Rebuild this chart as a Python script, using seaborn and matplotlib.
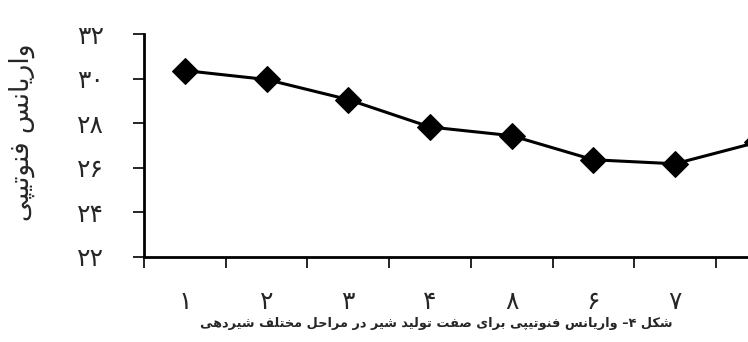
import matplotlib
matplotlib.use("Agg")
import matplotlib.pyplot as plt
import seaborn as sns
import numpy as np
import pandas as pd

# ---- data ----
stages = [1, 2, 3, 4, 5, 6, 7, 8]
stage_labels = ["۱", "۲", "۳", "۴", "۸", "۶", "۷", "۸"]
variance = [30.36, 29.96, 29.06, 27.83, 27.44, 26.36, 26.18, 27.14]
y_ticks = [22, 24, 26, 28, 30, 32]
y_tick_labels = ["۲۲", "۲۴", "۲۶", "۲۸", "۳۰", "۳۲"]
y_label = "واریانس فنوتیپی"
caption = "شکل ۴– واریانس فنوتیپی برای صفت تولید شیر در مراحل مختلف شیردهی"

# ---- minimal Arabic/Persian shaping (matplotlib has no shaping / bidi) ----
FORMS = {
    "ا": ("\uFE8D", "\uFE8E", None, None),
    "ب": ("\uFE8F", "\uFE90", "\uFE91", "\uFE92"),
    "ت": ("\uFE95", "\uFE96", "\uFE97", "\uFE98"),
    "ح": ("\uFEA1", "\uFEA2", "\uFEA3", "\uFEA4"),
    "خ": ("\uFEA5", "\uFEA6", "\uFEA7", "\uFEA8"),
    "د": ("\uFEA9", "\uFEAA", None, None),
    "ر": ("\uFEAD", "\uFEAE", None, None),
    "س": ("\uFEB1", "\uFEB2", "\uFEB3", "\uFEB4"),
    "ش": ("\uFEB5", "\uFEB6", "\uFEB7", "\uFEB8"),
    "ص": ("\uFEB9", "\uFEBA", "\uFEBB", "\uFEBC"),
    "ف": ("\uFED1", "\uFED2", "\uFED3", "\uFED4"),
    "ل": ("\uFEDD", "\uFEDE", "\uFEDF", "\uFEE0"),
    "م": ("\uFEE1", "\uFEE2", "\uFEE3", "\uFEE4"),
    "ن": ("\uFEE5", "\uFEE6", "\uFEE7", "\uFEE8"),
    "ه": ("\uFEE9", "\uFEEA", "\uFEEB", "\uFEEC"),
    "و": ("\uFEED", "\uFEEE", None, None),
    "پ": ("\uFB56", "\uFB57", "\uFB58", "\uFB59"),
    "ک": ("\uFB8E", "\uFB8F", "\uFB90", "\uFB91"),
    "ی": ("\uFBFC", "\uFBFD", "\uFBFE", "\uFBFF"),
}


def rtl(text):
    out = []
    n = len(text)
    for i, c in enumerate(text):
        if c not in FORMS:
            out.append(c)
            continue
        iso, fin, ini, med = FORMS[c]
        prev = text[i - 1] if i > 0 else None
        nxt = text[i + 1] if i + 1 < n else None
        jp = prev in FORMS and FORMS[prev][2] is not None
        jn = nxt in FORMS and ini is not None
        if jp and jn:
            out.append(med)
        elif jp:
            out.append(fin)
        elif jn:
            out.append(ini)
        else:
            out.append(iso)
    return "".join(out)[::-1]


sns.set_theme(style="white")
plt.rcParams["font.family"] = ["DejaVu Sans"]

df = pd.DataFrame({"stage": stages, "variance": variance})

fig = plt.figure(figsize=(7.48, 3.42), dpi=100)
W, H = 748, 342
left_px, right_px = 144, 144 + 8 * 81.7
top_px, bot_px = 34, 257
ax = fig.add_axes([left_px / W, 1 - bot_px / H, (right_px - left_px) / W, (bot_px - top_px) / H])
ax.set_facecolor("white")

sns.lineplot(data=df, x="stage", y="variance", ax=ax, color="black", linewidth=2.2,
             marker="D", markersize=13, markeredgecolor="black", markerfacecolor="black")

ax.set_xlim(0.5, 8.5)
ax.set_ylim(22, 32)
ax.set_xlabel("")
ax.set_ylabel("")

for s in ["top", "right"]:
    ax.spines[s].set_visible(False)
for s in ["left", "bottom"]:
    ax.spines[s].set_color("black")
    ax.spines[s].set_linewidth(2.0)

ax.set_yticks(y_ticks)
ax.set_yticklabels(y_tick_labels, fontsize=18)
ax.tick_params(axis="y", direction="out", length=8, width=1.2, color="black",
               pad=21, left=True)

# the 8th stage lies past the right edge of the picture, so only 7 labels show
ax.set_xticks(stages[:7])
ax.set_xticklabels(stage_labels[:7], fontsize=18)
ax.set_xticks(np.arange(0.5, 9.0, 1.0), minor=True)
ax.tick_params(axis="x", which="major", length=0, pad=24)
ax.tick_params(axis="x", which="minor", direction="out", length=8, width=1.2,
               color="black", bottom=True)
ax.grid(False)

fig.text(22 / W, 1 - 132 / H, rtl(y_label), rotation=90, ha="center", va="center",
         fontsize=19)
fig.text(436 / W, 1 - 323 / H, rtl(caption), ha="center", va="center",
         fontsize=9.3, fontweight="bold")

fig.savefig("out.png", dpi=100, facecolor="white")
